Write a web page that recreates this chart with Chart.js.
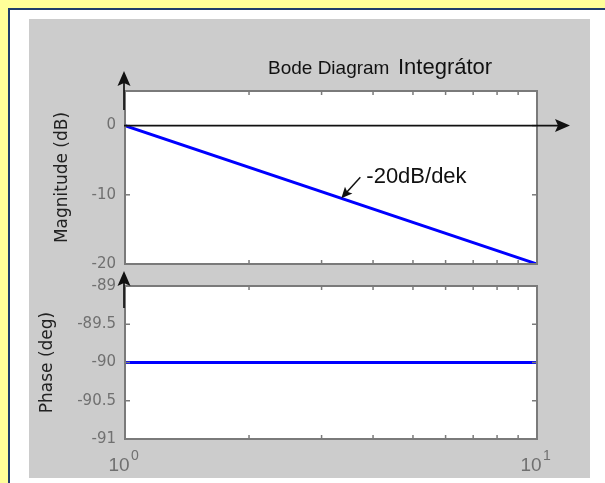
<!DOCTYPE html>
<html>
<head>
<meta charset="utf-8">
<script src="https://cdn.jsdelivr.net/npm/chart.js@4"></script>
<style>
  html, body { margin: 0; padding: 0; }
  body { width: 605px; height: 483px; background: #ffff99; position: relative; overflow: hidden; }
  #moldura { position: absolute; left: 8px; top: 8px; width: 620px; height: 500px; background: #fff;
             border-left: 2px solid #1f3d6c; border-top: 2px solid #1f3d6c; }
  #painel { position: absolute; left: 29px; top: 19px; width: 561px; height: 459px; background: #cccccc; }
  canvas { position: absolute; left: 29px; }
  #bodeMag { top: 19px; }
  #bodePhase { top: 260px; }
</style>
</head>
<body>
<div id="moldura"></div>
<div id="painel"></div>
<canvas id="bodeMag" width="561" height="265"></canvas>
<canvas id="bodePhase" width="561" height="218"></canvas>
<script>
/* bode integrador — magnitude + fase em dois gráficos */

// ===== Dados
const freq = [1, 10];                 // eixo log, 10^0 .. 10^1
const magDb = [0, -20];               // Magnitude (dB)
const phaseDeg = [-90, -90];          // Phase (deg)
const xTicks = [1, 2, 3, 4, 5, 6, 7, 8, 9, 10];
const majorTicks = [1, 10];
const majorBase = ['10', '10'];
const majorExp = ['0', '1'];
const magTicks = [-20, -10, 0];
const phaseTicks = [-91, -90.5, -90, -89.5, -89];
const titleParts = ['Bode Diagram', 'Integrátor'];
const slopeNote = '-20dB/dek';
const slopePoint = [3.35, -10.5];     // onde a seta da nota toca a reta

// ===== Cores / fontes
const FRAME = '#7a7a7a';
const TICK_TXT = '#707070';
const SANS = 'DejaVu Sans';
const ARIAL = 'Liberation Sans, Arial';

function line(ctx, x1, y1, x2, y2) {
    ctx.beginPath(); ctx.moveTo(x1, y1); ctx.lineTo(x2, y2); ctx.stroke();
}

// seta com ponta cheia em (x2, y2)
function arrow(ctx, x1, y1, x2, y2, len, half) {
    const a = Math.atan2(y2 - y1, x2 - x1);
    const c = Math.cos(a), s = Math.sin(a);
    line(ctx, x1, y1, x2 - c * len * 0.7, y2 - s * len * 0.7);
    ctx.beginPath();
    ctx.moveTo(x2, y2);
    ctx.lineTo(x2 - len * c + half * s, y2 - len * s - half * c);
    ctx.lineTo(x2 - len * c * 0.8, y2 - len * s * 0.8);
    ctx.lineTo(x2 - len * c - half * s, y2 - len * s + half * c);
    ctx.closePath();
    ctx.fill();
}

// ===== Caixa branca + moldura + ticks para dentro
const axesBox = {
    id: 'axesBox',
    beforeDraw(chart) {
        const { ctx, chartArea: a } = chart;
        ctx.save();
        ctx.fillStyle = '#fff';
        ctx.fillRect(a.left, a.top, a.right - a.left, a.bottom - a.top);
        ctx.restore();
    },
    afterDatasetsDraw(chart) {
        const { ctx, chartArea: a, scales: { x, y } } = chart;
        ctx.save();
        ctx.strokeStyle = FRAME;
        ctx.lineWidth = 1.5;
        xTicks.forEach(v => {
            const px = x.getPixelForValue(v);
            if (px <= a.left + 1 || px >= a.right - 1) return;
            line(ctx, px, a.bottom, px, a.bottom - 4);
            line(ctx, px, a.top, px, a.top + 4);
        });
        y.ticks.forEach(t => {
            const py = y.getPixelForValue(t.value);
            line(ctx, a.left, py, a.left + 5, py);
            line(ctx, a.right, py, a.right - 5, py);
        });
        ctx.lineWidth = 2;
        ctx.strokeRect(a.left, a.top, a.right - a.left, a.bottom - a.top);
        ctx.restore();
    }
};

// ===== Extras do gráfico de magnitude: título, eixo 0 dB com seta, nota da inclinação
const magExtras = {
    id: 'magExtras',
    afterDatasetsDraw(chart) {
        const { ctx, chartArea: a, scales: { x, y } } = chart;
        ctx.save();
        ctx.fillStyle = '#111';
        ctx.strokeStyle = '#111';
        ctx.lineWidth = 1.7;
        const y0 = y.getPixelForValue(0);
        arrow(ctx, a.left - 1, y0, a.right + 33, y0, 15, 6.5);
        arrow(ctx, a.left - 1, a.top + 19, a.left - 1, a.top - 20, 15, 6.5);

        // nota -20dB/dek
        const px = x.getPixelForValue(slopePoint[0]);
        const py = y.getPixelForValue(slopePoint[1]);
        ctx.lineWidth = 1.5;
        arrow(ctx, px + 19, py - 21, px, py, 11, 5);
        ctx.font = `22px ${ARIAL}`;
        ctx.textBaseline = 'alphabetic';
        ctx.fillText(slopeNote, px + 25, py - 15);

        // título
        ctx.fillStyle = '#111';
        ctx.font = `19px ${ARIAL}`;
        ctx.fillText(titleParts[0], 239, 55);
        ctx.font = `22px ${ARIAL}`;
        ctx.fillText(titleParts[1], 369, 55);
        ctx.restore();
    }
};

// ===== Extras da fase: seta vertical + expoentes dos rótulos 10^n
const phaseExtras = {
    id: 'phaseExtras',
    afterDatasetsDraw(chart) {
        const { ctx, chartArea: a } = chart;
        ctx.save();
        ctx.fillStyle = '#111';
        ctx.strokeStyle = '#111';
        ctx.lineWidth = 1.7;
        arrow(ctx, a.left - 1, a.top + 22, a.left - 1, a.top - 15, 15, 6.5);
        ctx.restore();
    },
    afterDraw(chart) {
        const { ctx, scales: { x } } = chart;
        ctx.save();
        ctx.fillStyle = TICK_TXT;
        ctx.font = `14px ${ARIAL}`;
        ctx.textBaseline = 'alphabetic';
        majorTicks.forEach((v, i) => {
            ctx.fillText(majorExp[i], x.getPixelForValue(v) + 6, 200);
        });
        ctx.restore();
    }
};

const lineDs = (data) => ({
    data, borderColor: '#0000ff', borderWidth: 3, pointRadius: 0, tension: 0, fill: false
});

const baseY = (min, max, ticks, title, titlePad) => ({
    type: 'linear', min, max,
    afterBuildTicks: (s) => { s.ticks = ticks.map(v => ({ value: v })); },
    afterFit: (s) => { s.width = 96; },
    grid: { display: false, drawTicks: false },
    border: { display: false },
    ticks: { color: TICK_TXT, font: { family: SANS, size: 15 }, padding: 9,
             callback: (v) => String(v) },
    title: { display: true, text: title, color: '#222', font: { family: SANS, size: 17 },
             padding: { top: titlePad, bottom: 0 } }
});

const common = {
    responsive: false,
    animation: false,
    devicePixelRatio: 1,
    plugins: { legend: { display: false }, tooltip: { enabled: false } }
};

// ===== Magnitude
new Chart(document.getElementById('bodeMag'), {
    type: 'line',
    data: { datasets: [lineDs(freq.map((f, i) => ({ x: f, y: magDb[i] })))] },
    options: {
        ...common,
        layout: { padding: { top: 72, right: 53, bottom: 20, left: 0 } },
        scales: {
            x: { type: 'logarithmic', min: 1, max: 10, display: false },
            y: baseY(-20, 5, magTicks, 'Magnitude (dB)', 23)
        }
    },
    plugins: [axesBox, magExtras]
});

// ===== Fase
new Chart(document.getElementById('bodePhase'), {
    type: 'line',
    data: { datasets: [lineDs(freq.map((f, i) => ({ x: f, y: phaseDeg[i] })))] },
    options: {
        ...common,
        layout: { padding: { top: 26, right: 53, bottom: 0, left: 0 } },
        scales: {
            x: {
                type: 'logarithmic', min: 1, max: 10,
                afterFit: (s) => { s.height = 39; },
                grid: { display: false, drawTicks: false },
                border: { display: false },
                ticks: {
                    autoSkip: false, maxRotation: 0, padding: 15, labelOffset: -6,
                    color: TICK_TXT, font: { family: ARIAL, size: 19 },
                    callback: (v) => {
                        const i = majorTicks.findIndex(t => Math.abs(t - v) < 1e-9);
                        return i >= 0 ? majorBase[i] : '';
                    }
                }
            },
            y: baseY(-91, -89, phaseTicks, 'Phase (deg)', 8)
        }
    },
    plugins: [axesBox, phaseExtras]
});
</script>
</body>
</html>
